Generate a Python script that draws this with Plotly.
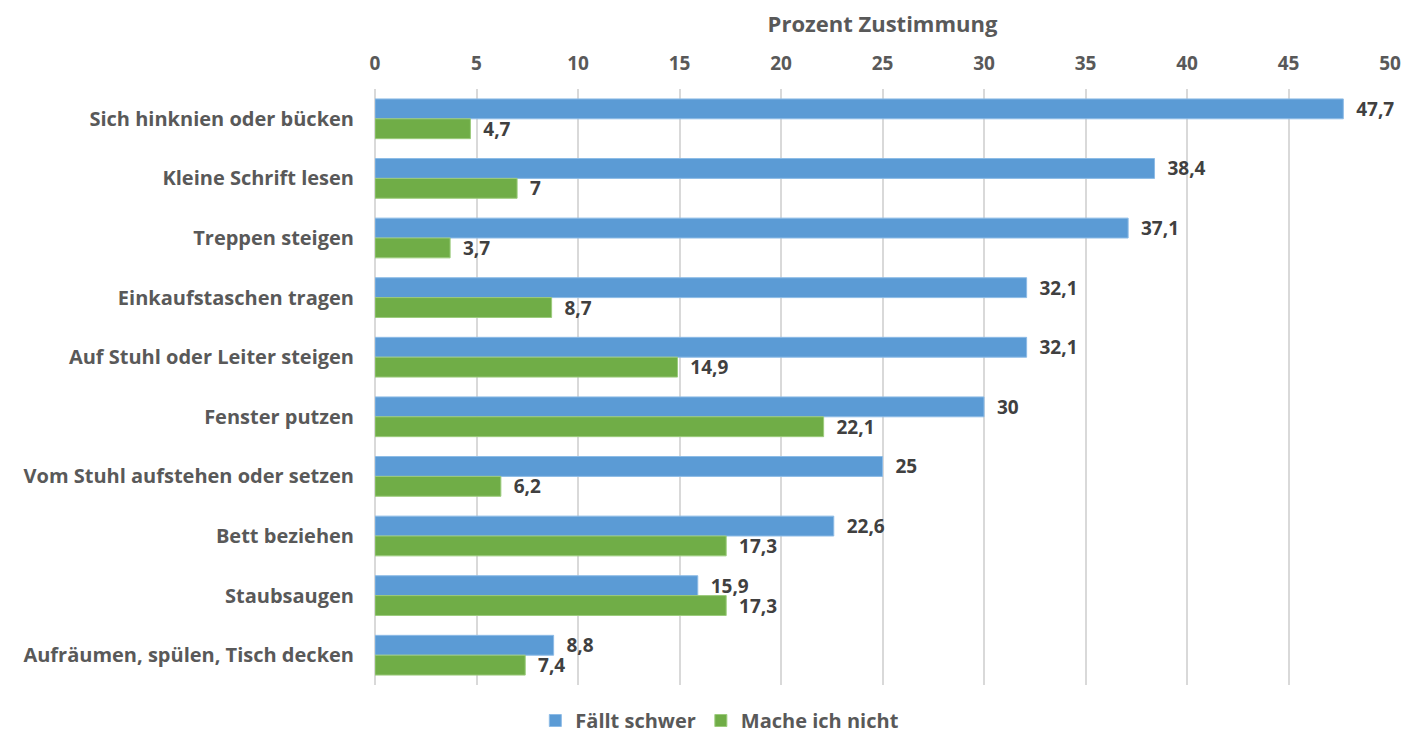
import plotly.graph_objects as go

categories = ["Sich hinknien oder bücken", "Kleine Schrift lesen", "Treppen steigen",
              "Einkaufstaschen tragen", "Auf Stuhl oder Leiter steigen", "Fenster putzen",
              "Vom Stuhl aufstehen oder setzen", "Bett beziehen", "Staubsaugen",
              "Aufräumen, spülen, Tisch decken"]
faellt_schwer = [47.7, 38.4, 37.1, 32.1, 32.1, 30, 25, 22.6, 15.9, 8.8]
mache_nicht = [4.7, 7, 3.7, 8.7, 14.9, 22.1, 6.2, 17.3, 17.3, 7.4]
x_ticks = [0, 5, 10, 15, 20, 25, 30, 35, 40, 45, 50]

FONT = "Open Sans"
W = "bold"
NB = "\u00a0"

def fmt(v):
    return NB * 2 + (f"{v:g}").replace(".", ",")

fig = go.Figure()
fig.add_trace(go.Bar(
    name="Fällt schwer", y=categories, x=faellt_schwer, orientation="h",
    marker=dict(color="#5B9BD5", line=dict(color="#8DBBE6", width=1)),
    text=[fmt(v) for v in faellt_schwer], textposition="outside",
    constraintext="none",
    textfont=dict(family=FONT, size=19, color="#404040", weight=W),
    cliponaxis=False,
))
fig.add_trace(go.Bar(
    name="Mache ich nicht", y=categories, x=mache_nicht, orientation="h",
    marker=dict(color="#70AD47", line=dict(color="#9CCB7C", width=1)),
    text=[fmt(v) for v in mache_nicht], textposition="outside",
    constraintext="none",
    textfont=dict(family=FONT, size=19, color="#404040", weight=W),
    cliponaxis=False,
))

fig.update_layout(
    width=1393, height=732,
    paper_bgcolor="white", plot_bgcolor="white",
    barmode="group", bargap=1/3, bargroupgap=0,
    margin=dict(l=367, r=11, t=81, b=55, autoexpand=False),
    font=dict(family=FONT, color="#595959"),
    xaxis=dict(
        side="top", range=[0, 50], tickvals=x_ticks,
        ticktext=[str(t) for t in x_ticks],
        showgrid=True, gridcolor="#D9D9D9", gridwidth=2,
        zeroline=True, zerolinecolor="#D9D9D9", zerolinewidth=2,
        tickfont=dict(family=FONT, size=19, color="#595959", weight=W),
        ticklabelstandoff=14,
        title=dict(text="Prozent Zustimmung",
                   font=dict(family=FONT, size=22, color="#595959", weight=W),
                   standoff=16),
        ticks="", automargin=False,
    ),
    yaxis=dict(
        autorange="reversed", showgrid=False, ticks="",
        tickfont=dict(family=FONT, size=20, color="#595959", weight=W),
        ticklabelstandoff=20, automargin=False,
    ),
    legend=dict(
        orientation="h", x=0.511, xanchor="center", xref="container",
        y=-0.012, yanchor="bottom", yref="container",
        font=dict(family=FONT, size=20, color="#595959", weight=W),
    ),
    showlegend=True,
)

fig.write_html("out.html")
